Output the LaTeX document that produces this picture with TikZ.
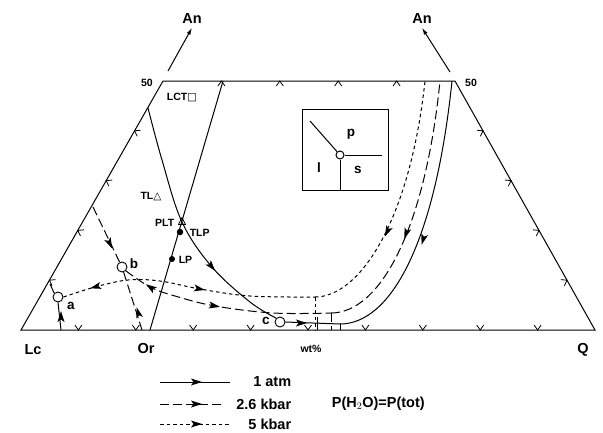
\documentclass[tikz,border=0pt]{standalone}
\usepackage{fontspec}
\setmainfont{Liberation Sans}
\newfontfamily\symfont{DejaVu Sans}
\usetikzlibrary{calc,arrows.meta}
\begin{document}
\begin{tikzpicture}[x=1pt,y=-1pt,line width=1pt,
  big/.style={font=\fontsize{14.5}{17}\bfseries\selectfont},
  small/.style={font=\fontsize{10.5}{13}\bfseries\selectfont},
  letter/.style={font=\fontsize{13.5}{16}\bfseries\selectfont},
  dsh/.style={dash pattern=on 9pt off 4pt},
  dtt/.style={dash pattern=on 3.5pt off 3pt},
  pt/.style={circle,draw,inner sep=0pt,minimum size=10pt,line width=0.9pt},
  dot/.style={circle,fill,inner sep=0pt,minimum size=6.5pt},
  chev/.style={line width=0.8pt}]
\useasboundingbox (0,0) rectangle (603,432);
\newcommand\ahead[3]{\fill[shift={(#1,#2)},rotate=#3] (5,0)--(-6,3.5)--(-3.5,0)--(-6,-3.5)--cycle;}
% frame
\coordinate (Lc) at (21,330);
\coordinate (Q) at (595,330);
\coordinate (TL) at (163,81);
\coordinate (TR) at (455,81);
\coordinate (OrB) at (150,330);
\coordinate (OrT) at (223,81);
\draw (Lc) -- (TL) -- (TR) -- (Q) -- cycle;
\draw (OrB) -- (OrT);
% ticks
\foreach \i in {1,...,9}{\draw[chev,shift={($(Lc)!\i/10!(Q)$)},rotate=-90] (-5,3.5)--(0,0)--(-5,-3.5);}
\foreach \i in {1,...,4}{\draw[chev,shift={($(TL)!\i/5!(TR)$)},rotate=90] (-5,3.5)--(0,0)--(-5,-3.5);}
\foreach \i in {1,...,4}{\draw[chev,shift={($(Lc)!\i/5!(TL)$)},rotate=150.5] (-5,3.5)--(0,0)--(-5,-3.5);}
\foreach \i in {1,...,4}{\draw[chev,shift={($(Q)!\i/5!(TR)$)},rotate=29.5] (-5,3.5)--(0,0)--(-5,-3.5);}
% An arrows
\node[big] (anl) at (192,19) {An};
\node[big] (anr) at (422,19) {An};
\coordinate (anlS) at (168,71);
\coordinate (anrS) at (450,72);
\draw[-{Latex[length=7pt,width=4pt]}] (anlS) -- (anl.south);
\draw[-{Latex[length=7pt,width=4pt]}] (anrS) -- (anr.south);
\node[small] (f1) at (147,83) {50};
\node[small] (f2) at (471,83) {50};
% points
\node[pt] (a) at (58,297) {};
\node[pt] (b) at (122,267) {};
\node[pt] (c) at (280,322) {};
\node[letter] (la) at (71,306) {a};
\node[letter] (lb) at (134,264) {b};
\node[letter] (lc) at (266,321) {c};
\node[dot] (tlp) at (180,232) {};
\node[dot,minimum size=6pt] (lp) at (172,259) {};
\coordinate (plt) at (182,222);
\draw[line width=0.8pt] ($(plt)+(-3.5,2.5)$) -- ($(plt)+(3.5,2.5)$) -- ($(plt)+(0,-4.5)$) -- cycle;
% labels
\node[small,anchor=west] (lct) at (163,97) {LCT{\symfont □}};
\node[small] (tl) at (151,197) {TL{\symfont △}};
\node[small,anchor=east] (pltl) at (178,223) {PLT};
\node[small,anchor=west] (tlpl) at (186,233) {TLP};
\node[small,anchor=west] (lpl) at (175,260) {LP};
% LCT boundary
\coordinate (lctS) at (148,108);
\draw plot[smooth,tension=0.6] coordinates {(lctS) (162,160) (plt) (212,267) (250,302) (c.north west)};
\ahead{212}{267}{-50}
% dashed b line
\coordinate (bT) at (93,207);
\coordinate (bB) at (142,330);
\draw[dsh] (bT) -- (b);
\draw[dsh] (b) -- (bB);
\ahead{110}{244}{-65}
\ahead{138}{312}{106}
% a line
\coordinate (aB) at (61,330);
\coordinate (aE) at (50,284);
\draw (aB) -- (a.south);
\draw (a.north west) -- (aE);
\ahead{61}{316}{90}
% 5 kbar dotted
\coordinate (d5) at (315,297);
\coordinate (d5t) at (425,81);
\draw[dtt] plot[smooth,tension=0.6] coordinates {(a.east) (95,287) (128,280) (160,281) (200,289) (250,296) (d5)};
\draw[dtt] (d5) .. controls (360,297) and (410,220) .. (d5t);
\draw[dtt] (d5) -- (315,330);
\ahead{95}{287}{-165}
\ahead{200}{289}{-11}
\ahead{387}{232}{-115}
% 2.6 kbar dashed
\coordinate (d26) at (331,313);
\coordinate (d26t) at (440,81);
\draw[dsh] plot[smooth,tension=0.6] coordinates {(b.south east) (150,287) (175,296) (215,306) (273,313) (d26)};
\draw[dsh] (d26) .. controls (380,313) and (425,230) .. (d26t);
\draw[dsh] (d26) -- (331,330);
\ahead{150}{287}{146}
\ahead{215}{306}{-10}
\ahead{406}{234}{-108}
% 1 atm solid
\coordinate (s1) at (340,324);
\coordinate (s1t) at (452,81);
\draw (c.east) -- (s1);
\draw (s1) .. controls (390,324) and (435,245) .. (s1t);
\draw (s1) -- (340,330);
\draw (317,317) -- (317,330);
\ahead{302}{323}{0}
\ahead{423}{240}{-106}
% inset
\node[draw,minimum width=86pt,minimum height=81pt,inner sep=0pt] (box) at (345,149.5) {};
\node[circle,draw,inner sep=0pt,minimum size=8pt] (ic) at (340,155) {};
\coordinate (iul) at (310,121);
\coordinate (ir) at (382,155);
\draw (ic) -- (iul);
\draw (ic) -- (ir);
\draw (ic) -- (ic |- box.south);
\node[letter] (ip) at (351,134) {p};
\node[letter] (il) at (319,168) {l};
\node[letter] (is) at (358,170) {s};
% axis labels
\node[big] (llc) at (33,350) {Lc};
\node[big] (lor) at (146,349) {Or};
\node[small] (wt) at (311,349) {wt\%};
\node[big] (lq) at (583,350) {Q};
% legend
\coordinate (g1a) at (160,382); \coordinate (g1b) at (230,382);
\coordinate (g2a) at (160,404); \coordinate (g2b) at (224,404);
\coordinate (g3a) at (160,424); \coordinate (g3b) at (230,424);
\draw (g1a) -- (g1b);
\draw[dsh] (g2a) -- (g2b);
\draw[dtt] (g3a) -- (g3b);
\ahead{197}{382}{0}
\ahead{197}{404}{0}
\ahead{197}{424}{0}
\node[big,anchor=east] (t1) at (295,382) {1 atm};
\node[big,anchor=east] (t2) at (295,404) {2.6 kbar};
\node[big,anchor=east] (t3) at (295,424) {5 kbar};
\node[big,anchor=west] (t4) at (328,404) {P(H$_2$O)=P(tot)};
\end{tikzpicture}
\end{document}
